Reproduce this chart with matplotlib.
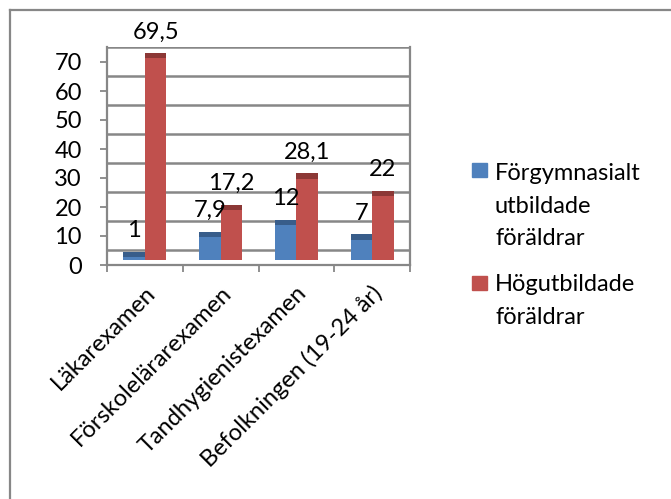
import matplotlib.pyplot as plt
import matplotlib.transforms as mtransforms
from matplotlib.patches import Rectangle
from matplotlib.lines import Line2D

plt.rcParams['font.family'] = ['Lato', 'DejaVu Sans']

categories = ['Läkarexamen', 'Förskolelärarexamen', 'Tandhygienistexamen', 'Befolkningen (19-24 år)']
forgymn = [1, 7.9, 12, 7]
hogutb = [69.5, 17.2, 28.1, 22]
series_names = ['Förgymnasialt\nutbildade\nföräldrar', 'Högutbildade\nföräldrar']
yticks = [0, 10, 20, 30, 40, 50, 60, 70]

blue, blue_top = '#4F81BD', '#385D8A'
red, red_top = '#C0504D', '#8C3836'
grey = '#878787'
fs = 17

W, H = 671, 499
fig = plt.figure(figsize=(W / 100, H / 100), dpi=100)
ax = fig.add_axes([107 / W, 1 - 265 / H, 303 / W, 218 / H])

ax.set_xlim(-0.5, 3.5)
ax.set_ylim(0, 218 / 2.9)

# back wall gridlines (3d look: shifted up)
back = 15 / 2.9
for g in yticks:
    ax.axhline(g + back, color=grey, lw=1.8, zorder=1)

# bars with a darker top face
base = 5 / 2.9
cap = 5.5 / 2.9
w = 0.285
x = list(range(len(categories)))
for vals, c, ct, dx in [(forgymn, blue, blue_top, -w / 2), (hogutb, red, red_top, w / 2)]:
    xs = [i + dx for i in x]
    ax.bar(xs, vals, width=w, bottom=base, color=c, zorder=3)
    ax.bar(xs, [cap] * len(vals), width=w, bottom=[base + v for v in vals], color=ct, zorder=3)
    for xi, v in zip(xs, vals):
        lab = ('%g' % v).replace('.', ',')
        ax.annotate(lab, (xi, base + v + cap), xytext=(0, 21), textcoords='offset pixels',
                    ha='center', va='center', fontsize=fs, zorder=4)

ax.set_yticks(yticks)
ax.set_yticklabels([str(t) for t in yticks], fontsize=fs)
ax.tick_params(axis='y', length=5, width=1.3, color=grey, pad=13)

ax.set_xticks(x)
ax.set_xticklabels(categories, fontsize=fs, rotation=45, ha='right', va='center',
                   rotation_mode='anchor')
ax.set_xticks([-0.5, 0.5, 1.5, 2.5, 3.5], minor=True)
ax.tick_params(axis='x', which='major', length=0, pad=18)
ax.tick_params(axis='x', which='minor', length=5, width=1.3, color=grey)
off = mtransforms.ScaledTranslation(7 / 100, 0, fig.dpi_scale_trans)
for t in ax.get_xticklabels():
    t.set_transform(t.get_transform() + off)

for s in ['left', 'right', 'bottom']:
    ax.spines[s].set_color(grey)
    ax.spines[s].set_linewidth(1.6)
ax.spines['top'].set_visible(False)

# legend drawn by hand
fig.add_artist(Rectangle((472 / W, 1 - 177 / H), 15 / W, 14 / H, transform=fig.transFigure, color=blue))
fig.add_artist(Rectangle((472 / W, 1 - 290 / H), 15 / W, 14 / H, transform=fig.transFigure, color=red))
fig.text(495 / W, 1 - 163 / H, series_names[0], fontsize=fs, va='top', ha='left', linespacing=1.68)
fig.text(495 / W, 1 - 274 / H, series_names[1], fontsize=fs, va='top', ha='left', linespacing=1.68)

# chart area border
fig.add_artist(Line2D([10 / W, 1], [1 - 10 / H, 1 - 10 / H], transform=fig.transFigure, color=grey, lw=1.6))
fig.add_artist(Line2D([10 / W, 10 / W], [1 - 10 / H, 0], transform=fig.transFigure, color=grey, lw=1.6))

fig.savefig('out.png', dpi=100)
